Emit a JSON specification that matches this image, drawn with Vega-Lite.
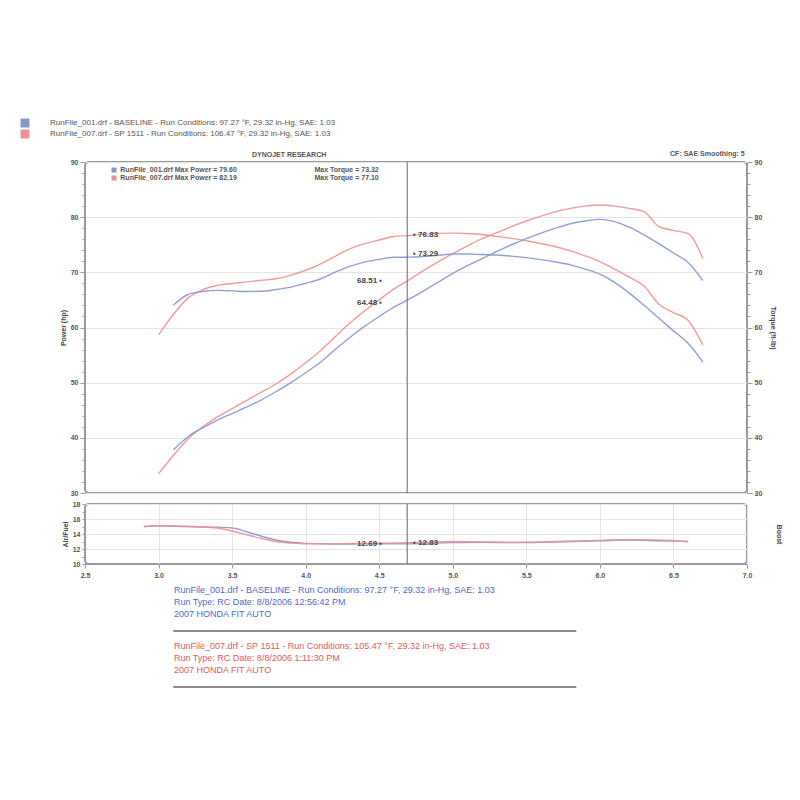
{
  "$schema": "https://vega.github.io/schema/vega-lite/v6.json",
  "background": "white",
  "padding": {"left": 19, "top": 117, "right": 5, "bottom": 5},
  "config": {
    "font": "Liberation Sans",
    "view": {"stroke": "#9a9a9a", "strokeWidth": 2, "cornerRadius": 4},
    "axis": {"labelFont": "Liberation Sans", "labelFontSize": 7, "labelFontWeight": "bold", "labelColor": "#555", "titleFont": "Liberation Sans", "titleFontSize": 7, "titleFontWeight": "bold", "titleColor": "#444", "gridColor": "#e4e4e4", "domainColor": "#9a9a9a", "tickColor": "#9a9a9a", "labelOverlap": false}
  },
  "datasets": {
    "pt": [
      {"rpm": 3.0, "run": "sp", "power": 33.5, "torque": 58.65},
      {"rpm": 3.1, "run": "sp", "power": 36.8, "torque": 62.35},
      {"rpm": 3.2, "run": "sp", "power": 39.8, "torque": 65.32},
      {"rpm": 3.3, "run": "sp", "power": 42.0, "torque": 66.84},
      {"rpm": 3.4, "run": "sp", "power": 43.8, "torque": 67.66},
      {"rpm": 3.5, "run": "sp", "power": 45.3, "torque": 67.98},
      {"rpm": 3.6, "run": "sp", "power": 46.8, "torque": 68.28},
      {"rpm": 3.7, "run": "sp", "power": 48.3, "torque": 68.56},
      {"rpm": 3.8, "run": "sp", "power": 49.8, "torque": 68.83},
      {"rpm": 3.9, "run": "sp", "power": 51.6, "torque": 69.49},
      {"rpm": 4.0, "run": "sp", "power": 53.6, "torque": 70.38},
      {"rpm": 4.1, "run": "sp", "power": 55.8, "torque": 71.48},
      {"rpm": 4.2, "run": "sp", "power": 58.3, "torque": 72.90},
      {"rpm": 4.3, "run": "sp", "power": 60.8, "torque": 74.26},
      {"rpm": 4.4, "run": "sp", "power": 63.0, "torque": 75.20},
      {"rpm": 4.5, "run": "sp", "power": 65.0, "torque": 75.86},
      {"rpm": 4.6, "run": "sp", "power": 67.0, "torque": 76.50},
      {"rpm": 4.7, "run": "sp", "power": 68.6, "torque": 76.66},
      {"rpm": 4.8, "run": "sp", "power": 70.3, "torque": 76.92},
      {"rpm": 4.9, "run": "sp", "power": 71.9, "torque": 77.07},
      {"rpm": 5.0, "run": "sp", "power": 73.4, "torque": 77.10},
      {"rpm": 5.1, "run": "sp", "power": 74.8, "torque": 77.03},
      {"rpm": 5.2, "run": "sp", "power": 76.1, "torque": 76.86},
      {"rpm": 5.3, "run": "sp", "power": 77.2, "torque": 76.50},
      {"rpm": 5.4, "run": "sp", "power": 78.3, "torque": 76.15},
      {"rpm": 5.5, "run": "sp", "power": 79.3, "torque": 75.72},
      {"rpm": 5.6, "run": "sp", "power": 80.2, "torque": 75.22},
      {"rpm": 5.7, "run": "sp", "power": 81.0, "torque": 74.63},
      {"rpm": 5.8, "run": "sp", "power": 81.6, "torque": 73.89},
      {"rpm": 5.9, "run": "sp", "power": 82.0, "torque": 72.99},
      {"rpm": 6.0, "run": "sp", "power": 82.2, "torque": 71.95},
      {"rpm": 6.1, "run": "sp", "power": 82.0, "torque": 70.60},
      {"rpm": 6.2, "run": "sp", "power": 81.6, "torque": 69.12},
      {"rpm": 6.3, "run": "sp", "power": 81.0, "torque": 67.53},
      {"rpm": 6.4, "run": "sp", "power": 78.3, "torque": 64.25},
      {"rpm": 6.5, "run": "sp", "power": 77.6, "torque": 62.70},
      {"rpm": 6.6, "run": "sp", "power": 77.0, "torque": 61.27},
      {"rpm": 6.7, "run": "sp", "power": 72.5, "torque": 56.83},
      {"rpm": 3.1, "run": "base", "power": 37.8, "torque": 64.04},
      {"rpm": 3.2, "run": "base", "power": 40.2, "torque": 65.98},
      {"rpm": 3.3, "run": "base", "power": 41.8, "torque": 66.52},
      {"rpm": 3.4, "run": "base", "power": 43.2, "torque": 66.73},
      {"rpm": 3.5, "run": "base", "power": 44.4, "torque": 66.63},
      {"rpm": 3.6, "run": "base", "power": 45.6, "torque": 66.52},
      {"rpm": 3.7, "run": "base", "power": 46.9, "torque": 66.57},
      {"rpm": 3.8, "run": "base", "power": 48.4, "torque": 66.89},
      {"rpm": 3.9, "run": "base", "power": 50.0, "torque": 67.33},
      {"rpm": 4.0, "run": "base", "power": 51.8, "torque": 68.01},
      {"rpm": 4.1, "run": "base", "power": 53.7, "torque": 68.79},
      {"rpm": 4.2, "run": "base", "power": 56.0, "torque": 70.03},
      {"rpm": 4.3, "run": "base", "power": 58.2, "torque": 71.09},
      {"rpm": 4.4, "run": "base", "power": 60.2, "torque": 71.86},
      {"rpm": 4.5, "run": "base", "power": 62.0, "torque": 72.36},
      {"rpm": 4.6, "run": "base", "power": 63.7, "torque": 72.73},
      {"rpm": 4.7, "run": "base", "power": 65.1, "torque": 72.75},
      {"rpm": 4.8, "run": "base", "power": 66.6, "torque": 72.87},
      {"rpm": 4.9, "run": "base", "power": 68.2, "torque": 73.10},
      {"rpm": 5.0, "run": "base", "power": 69.8, "torque": 73.32},
      {"rpm": 5.1, "run": "base", "power": 71.2, "torque": 73.32},
      {"rpm": 5.2, "run": "base", "power": 72.5, "torque": 73.22},
      {"rpm": 5.3, "run": "base", "power": 73.8, "torque": 73.13},
      {"rpm": 5.4, "run": "base", "power": 75.0, "torque": 72.94},
      {"rpm": 5.5, "run": "base", "power": 76.1, "torque": 72.67},
      {"rpm": 5.6, "run": "base", "power": 77.1, "torque": 72.31},
      {"rpm": 5.7, "run": "base", "power": 78.0, "torque": 71.87},
      {"rpm": 5.8, "run": "base", "power": 78.8, "torque": 71.36},
      {"rpm": 5.9, "run": "base", "power": 79.3, "torque": 70.59},
      {"rpm": 6.0, "run": "base", "power": 79.6, "torque": 69.68},
      {"rpm": 6.1, "run": "base", "power": 79.2, "torque": 68.19},
      {"rpm": 6.2, "run": "base", "power": 78.2, "torque": 66.24},
      {"rpm": 6.3, "run": "base", "power": 76.8, "torque": 64.02},
      {"rpm": 6.4, "run": "base", "power": 75.2, "torque": 61.71},
      {"rpm": 6.5, "run": "base", "power": 73.5, "torque": 59.39},
      {"rpm": 6.6, "run": "base", "power": 71.8, "torque": 57.14},
      {"rpm": 6.7, "run": "base", "power": 68.5, "torque": 53.70}
    ],
    "afr": [
      {"rpm": 2.9, "run": "base", "afr": 15.0},
      {"rpm": 3.0, "run": "base", "afr": 15.1},
      {"rpm": 3.2, "run": "base", "afr": 15.0},
      {"rpm": 3.4, "run": "base", "afr": 14.9},
      {"rpm": 3.5, "run": "base", "afr": 14.8},
      {"rpm": 3.6, "run": "base", "afr": 14.3},
      {"rpm": 3.7, "run": "base", "afr": 13.7},
      {"rpm": 3.8, "run": "base", "afr": 13.2},
      {"rpm": 3.9, "run": "base", "afr": 12.9},
      {"rpm": 4.0, "run": "base", "afr": 12.75},
      {"rpm": 4.2, "run": "base", "afr": 12.65},
      {"rpm": 4.4, "run": "base", "afr": 12.7},
      {"rpm": 4.6, "run": "base", "afr": 12.7},
      {"rpm": 4.7, "run": "base", "afr": 12.69},
      {"rpm": 4.8, "run": "base", "afr": 12.75},
      {"rpm": 5.0, "run": "base", "afr": 12.85},
      {"rpm": 5.2, "run": "base", "afr": 12.9},
      {"rpm": 5.4, "run": "base", "afr": 12.85},
      {"rpm": 5.6, "run": "base", "afr": 12.9},
      {"rpm": 5.8, "run": "base", "afr": 13.0},
      {"rpm": 6.0, "run": "base", "afr": 13.1},
      {"rpm": 6.2, "run": "base", "afr": 13.2},
      {"rpm": 6.4, "run": "base", "afr": 13.1},
      {"rpm": 6.6, "run": "base", "afr": 13.0},
      {"rpm": 2.9, "run": "sp", "afr": 15.0},
      {"rpm": 3.0, "run": "sp", "afr": 15.1},
      {"rpm": 3.2, "run": "sp", "afr": 15.0},
      {"rpm": 3.4, "run": "sp", "afr": 14.8},
      {"rpm": 3.5, "run": "sp", "afr": 14.4},
      {"rpm": 3.6, "run": "sp", "afr": 13.9},
      {"rpm": 3.7, "run": "sp", "afr": 13.4},
      {"rpm": 3.8, "run": "sp", "afr": 13.0},
      {"rpm": 3.9, "run": "sp", "afr": 12.8},
      {"rpm": 4.0, "run": "sp", "afr": 12.7},
      {"rpm": 4.2, "run": "sp", "afr": 12.7},
      {"rpm": 4.4, "run": "sp", "afr": 12.75},
      {"rpm": 4.6, "run": "sp", "afr": 12.8},
      {"rpm": 4.7, "run": "sp", "afr": 12.83},
      {"rpm": 4.8, "run": "sp", "afr": 12.9},
      {"rpm": 5.0, "run": "sp", "afr": 13.0},
      {"rpm": 5.2, "run": "sp", "afr": 12.95},
      {"rpm": 5.4, "run": "sp", "afr": 12.9},
      {"rpm": 5.6, "run": "sp", "afr": 12.95},
      {"rpm": 5.8, "run": "sp", "afr": 13.05},
      {"rpm": 6.0, "run": "sp", "afr": 13.15},
      {"rpm": 6.2, "run": "sp", "afr": 13.25},
      {"rpm": 6.4, "run": "sp", "afr": 13.2},
      {"rpm": 6.6, "run": "sp", "afr": 13.0}
    ]
  },
  "vconcat": [
    {
      "width": 662,
      "height": 331,
      "layer": [
        {
          "data": {"name": "pt"},
          "transform": [{"fold": ["power", "torque"], "as": ["m", "v"]}],
          "mark": {"type": "line", "strokeWidth": 1.4, "interpolate": "monotone", "opacity": 0.9},
          "encoding": {
            "x": {"field": "rpm", "type": "quantitative", "scale": {"domain": [2.5, 7.0], "nice": false, "zero": false},
              "axis": {"values": [2.5, 3.0, 3.5, 4.0, 4.5, 5.0, 5.5, 6.0, 6.5, 7.0], "labels": false, "ticks": true, "tickSize": 10, "tickOpacity": 0, "domain": false, "grid": true, "title": null}},
            "y": {"field": "v", "type": "quantitative", "scale": {"domain": [30, 90], "nice": false, "zero": false},
              "axis": {"orient": "left", "values": [30,32,34,36,38,40,42,44,46,48,50,52,54,56,58,60,62,64,66,68,70,72,74,76,78,80,82,84,86,88,90],
                "labelExpr": "datum.value % 10 === 0 ? datum.label : ''", "tickSize": {"condition": {"test": "datum.value % 10 === 0", "value": 5}, "value": 3},
                "gridOpacity": {"condition": {"test": "datum.value % 10 === 0", "value": 1}, "value": 0}, "title": "Power (hp)", "titlePadding": 4, "labelPadding": 2}},
            "color": {"field": "run", "type": "nominal", "scale": {"domain": ["base", "sp"], "range": ["#8595d2", "#ee9090"]}, "legend": null},
            "detail": {"field": "m"}
          }
        },
        {
          "data": {"values": [{"rpm": 4.69}]},
          "mark": {"type": "rule", "color": "#666", "strokeWidth": 1},
          "encoding": {"x": {"field": "rpm", "type": "quantitative", "axis": null}}
        },
        {
          "data": {"values": [{"rpm": 2.092, "v": 97.07, "run": "base"}, {"rpm": 2.092, "v": 95.08, "run": "sp"}]},
          "mark": {"type": "square", "size": 80, "opacity": 1},
          "encoding": {
            "x": {"field": "rpm", "type": "quantitative", "axis": null},
            "y": {"field": "v", "type": "quantitative", "axis": null},
            "color": {"field": "run", "type": "nominal", "legend": null}
          }
        },
        {
          "data": {"values": [
            {"rpm": 2.262, "v": 97.07, "t": "RunFile_001.drf - BASELINE  -  Run Conditions: 97.27 °F, 29.32 in-Hg, SAE: 1.03"},
            {"rpm": 2.262, "v": 95.08, "t": "RunFile_007.drf - SP 1511  -  Run Conditions: 106.47 °F, 29.32 in-Hg, SAE: 1.03"}
          ]},
          "mark": {"type": "text", "align": "left", "baseline": "middle", "fontSize": 8, "color": "#555"},
          "encoding": {
            "x": {"field": "rpm", "type": "quantitative", "axis": null},
            "y": {"field": "v", "type": "quantitative", "axis": null},
            "text": {"field": "t"}
          }
        },
        {
          "data": {"values": [
            {"rpm": 3.635, "v": 91.3, "t": "DYNOJET RESEARCH"},
            {"rpm": 6.477, "v": 91.4, "t": "CF: SAE   Smoothing: 5"}
          ]},
          "mark": {"type": "text", "align": "left", "baseline": "middle", "fontSize": 7, "fontWeight": "bold", "color": "#555"},
          "encoding": {
            "x": {"field": "rpm", "type": "quantitative", "axis": null},
            "y": {"field": "v", "type": "quantitative", "axis": null},
            "text": {"field": "t"}
          }
        },
        {
          "data": {"values": [{"rpm": 2.697, "v": 88.55, "run": "base"}, {"rpm": 2.697, "v": 87.1, "run": "sp"}]},
          "mark": {"type": "square", "size": 25, "opacity": 1},
          "encoding": {
            "x": {"field": "rpm", "type": "quantitative", "axis": null},
            "y": {"field": "v", "type": "quantitative", "axis": null},
            "color": {"field": "run", "type": "nominal", "legend": null}
          }
        },
        {
          "data": {"values": [
            {"rpm": 2.74, "v": 88.55, "t": "RunFile_001.drf Max Power = 79.60"},
            {"rpm": 4.06, "v": 88.55, "t": "Max Torque = 73.32"},
            {"rpm": 2.74, "v": 87.1, "t": "RunFile_007.drf Max Power = 82.19"},
            {"rpm": 4.06, "v": 87.1, "t": "Max Torque = 77.10"}
          ]},
          "mark": {"type": "text", "align": "left", "baseline": "middle", "fontSize": 7, "fontWeight": "bold", "color": "#555"},
          "encoding": {
            "x": {"field": "rpm", "type": "quantitative", "axis": null},
            "y": {"field": "v", "type": "quantitative", "axis": null},
            "text": {"field": "t"}
          }
        },
        {
          "data": {"values": [
            {"rpm": 4.73, "v": 76.83, "t": "▪ 76.83"},
            {"rpm": 4.73, "v": 73.29, "t": "▪ 73.29"}
          ]},
          "mark": {"type": "text", "align": "left", "baseline": "middle", "fontSize": 8, "fontWeight": "bold", "color": "#444"},
          "encoding": {
            "x": {"field": "rpm", "type": "quantitative", "axis": null},
            "y": {"field": "v", "type": "quantitative", "axis": null},
            "text": {"field": "t"}
          }
        },
        {
          "data": {"values": [
            {"rpm": 4.52, "v": 68.51, "t": "68.51 ▪"},
            {"rpm": 4.52, "v": 64.48, "t": "64.48 ▪"}
          ]},
          "mark": {"type": "text", "align": "right", "baseline": "middle", "fontSize": 8, "fontWeight": "bold", "color": "#444"},
          "encoding": {
            "x": {"field": "rpm", "type": "quantitative", "axis": null},
            "y": {"field": "v", "type": "quantitative", "axis": null},
            "text": {"field": "t"}
          }
        },
        {
          "data": {"values": [{"k": 1}]},
          "mark": {"type": "rule", "opacity": 0},
          "encoding": {
            "y": {"datum": 30, "type": "quantitative",
              "axis": {"orient": "right", "values": [30,32,34,36,38,40,42,44,46,48,50,52,54,56,58,60,62,64,66,68,70,72,74,76,78,80,82,84,86,88,90],
                "labelExpr": "datum.value % 10 === 0 ? datum.label : ''", "tickSize": {"condition": {"test": "datum.value % 10 === 0", "value": 5}, "value": 3},
                "grid": false, "title": "Torque (ft-lb)", "titlePadding": 8, "labelPadding": 2}}
          }
        }
      ],
      "resolve": {"axis": {"y": "independent"}}
    },
    {
      "width": 662,
      "height": 60,
      "layer": [
        {
          "data": {"name": "afr"},
          "mark": {"type": "line", "strokeWidth": 1.4, "interpolate": "monotone", "opacity": 0.9},
          "encoding": {
            "x": {"field": "rpm", "type": "quantitative", "scale": {"domain": [2.5, 7.0], "nice": false, "zero": false},
              "axis": {"values": [2.5, 3.0, 3.5, 4.0, 4.5, 5.0, 5.5, 6.0, 6.5, 7.0], "format": ".1f",
                "labelOverlap": false, "labelFlush": false, "labelFontSize": 7,
                "tickSize": 4, "labelPadding": 3, "domain": true, "grid": true, "title": null}},
            "y": {"field": "afr", "type": "quantitative", "scale": {"domain": [10, 18], "nice": false, "zero": false},
              "axis": {"orient": "left", "values": [10,10.5,11,11.5,12,12.5,13,13.5,14,14.5,15,15.5,16,16.5,17,17.5,18], "format": "d",
                "labelExpr": "datum.value % 2 === 0 ? datum.label : ''", "tickSize": 3, "labelOverlap": false,
                "gridOpacity": {"condition": {"test": "datum.value % 2 === 0", "value": 1}, "value": 0}, "title": "Air/Fuel", "titlePadding": 4, "labelPadding": 2}},
            "color": {"field": "run", "type": "nominal", "scale": {"domain": ["base", "sp"], "range": ["#8595d2", "#ee9090"]}, "legend": null}
          }
        },
        {
          "data": {"values": [{"rpm": 4.69}]},
          "mark": {"type": "rule", "color": "#666", "strokeWidth": 1},
          "encoding": {"x": {"field": "rpm", "type": "quantitative"}}
        },
        {
          "data": {"values": [{"rpm": 4.52, "afr": 12.69, "t": "12.69 ▪"}]},
          "mark": {"type": "text", "align": "right", "baseline": "middle", "fontSize": 8, "fontWeight": "bold", "color": "#444"},
          "encoding": {
            "x": {"field": "rpm", "type": "quantitative"},
            "y": {"field": "afr", "type": "quantitative", "axis": null},
            "text": {"field": "t"}
          }
        },
        {
          "data": {"values": [{"rpm": 4.73, "afr": 12.83, "t": "▪ 12.83"}]},
          "mark": {"type": "text", "align": "left", "baseline": "middle", "fontSize": 8, "fontWeight": "bold", "color": "#444"},
          "encoding": {
            "x": {"field": "rpm", "type": "quantitative"},
            "y": {"field": "afr", "type": "quantitative", "axis": null},
            "text": {"field": "t"}
          }
        },
        {
          "data": {"values": [{"k": 1}]},
          "mark": {"type": "rule", "opacity": 0},
          "encoding": {
            "y": {"datum": 10, "type": "quantitative",
              "axis": {"orient": "right", "labels": false, "ticks": false, "domain": false, "grid": false, "title": "Boost", "titlePadding": 28}}
          }
        }
      ],
      "resolve": {"axis": {"y": "independent"}}
    },
    {
      "width": 662,
      "height": 108,
      "view": {"stroke": null},
      "layer": [
        {
          "data": {"values": [
            {"rpm": 3.105, "r": 0.75, "t": "RunFile_001.drf - BASELINE  -  Run Conditions: 97.27 °F, 29.32 in-Hg, SAE: 1.03"},
            {"rpm": 3.105, "r": 1.75, "t": "Run Type: RC  Date: 8/8/2006 12:56:42 PM"},
            {"rpm": 3.105, "r": 2.75, "t": "2007 HONDA FIT AUTO"}
          ]},
          "mark": {"type": "text", "align": "left", "baseline": "middle", "fontSize": 9, "color": "#5068c8"},
          "encoding": {
            "x": {"field": "rpm", "type": "quantitative", "scale": {"domain": [2.5, 7.0], "nice": false, "zero": false}, "axis": null},
            "y": {"field": "r", "type": "quantitative", "scale": {"domain": [0, 9], "reverse": true, "nice": false, "zero": false}, "axis": null},
            "text": {"field": "t"}
          }
        },
        {
          "data": {"values": [
            {"rpm": 3.105, "r": 5.42, "t": "RunFile_007.drf - SP 1511  -  Run Conditions: 105.47 °F, 29.32 in-Hg, SAE: 1.03"},
            {"rpm": 3.105, "r": 6.42, "t": "Run Type: RC  Date: 8/8/2006 1:11:30 PM"},
            {"rpm": 3.105, "r": 7.42, "t": "2007 HONDA FIT AUTO"}
          ]},
          "mark": {"type": "text", "align": "left", "baseline": "middle", "fontSize": 9, "color": "#e25a5a"},
          "encoding": {
            "x": {"field": "rpm", "type": "quantitative"},
            "y": {"field": "r", "type": "quantitative"},
            "text": {"field": "t"}
          }
        },
        {
          "data": {"values": [{"a": 3.1, "b": 5.84, "r": 4.17}, {"a": 3.1, "b": 5.84, "r": 8.83}]},
          "mark": {"type": "rule", "color": "#8a8a8a", "strokeWidth": 2},
          "encoding": {
            "x": {"field": "a", "type": "quantitative"},
            "x2": {"field": "b"},
            "y": {"field": "r", "type": "quantitative"}
          }
        }
      ]
    }
  ],
  "spacing": 2
}
